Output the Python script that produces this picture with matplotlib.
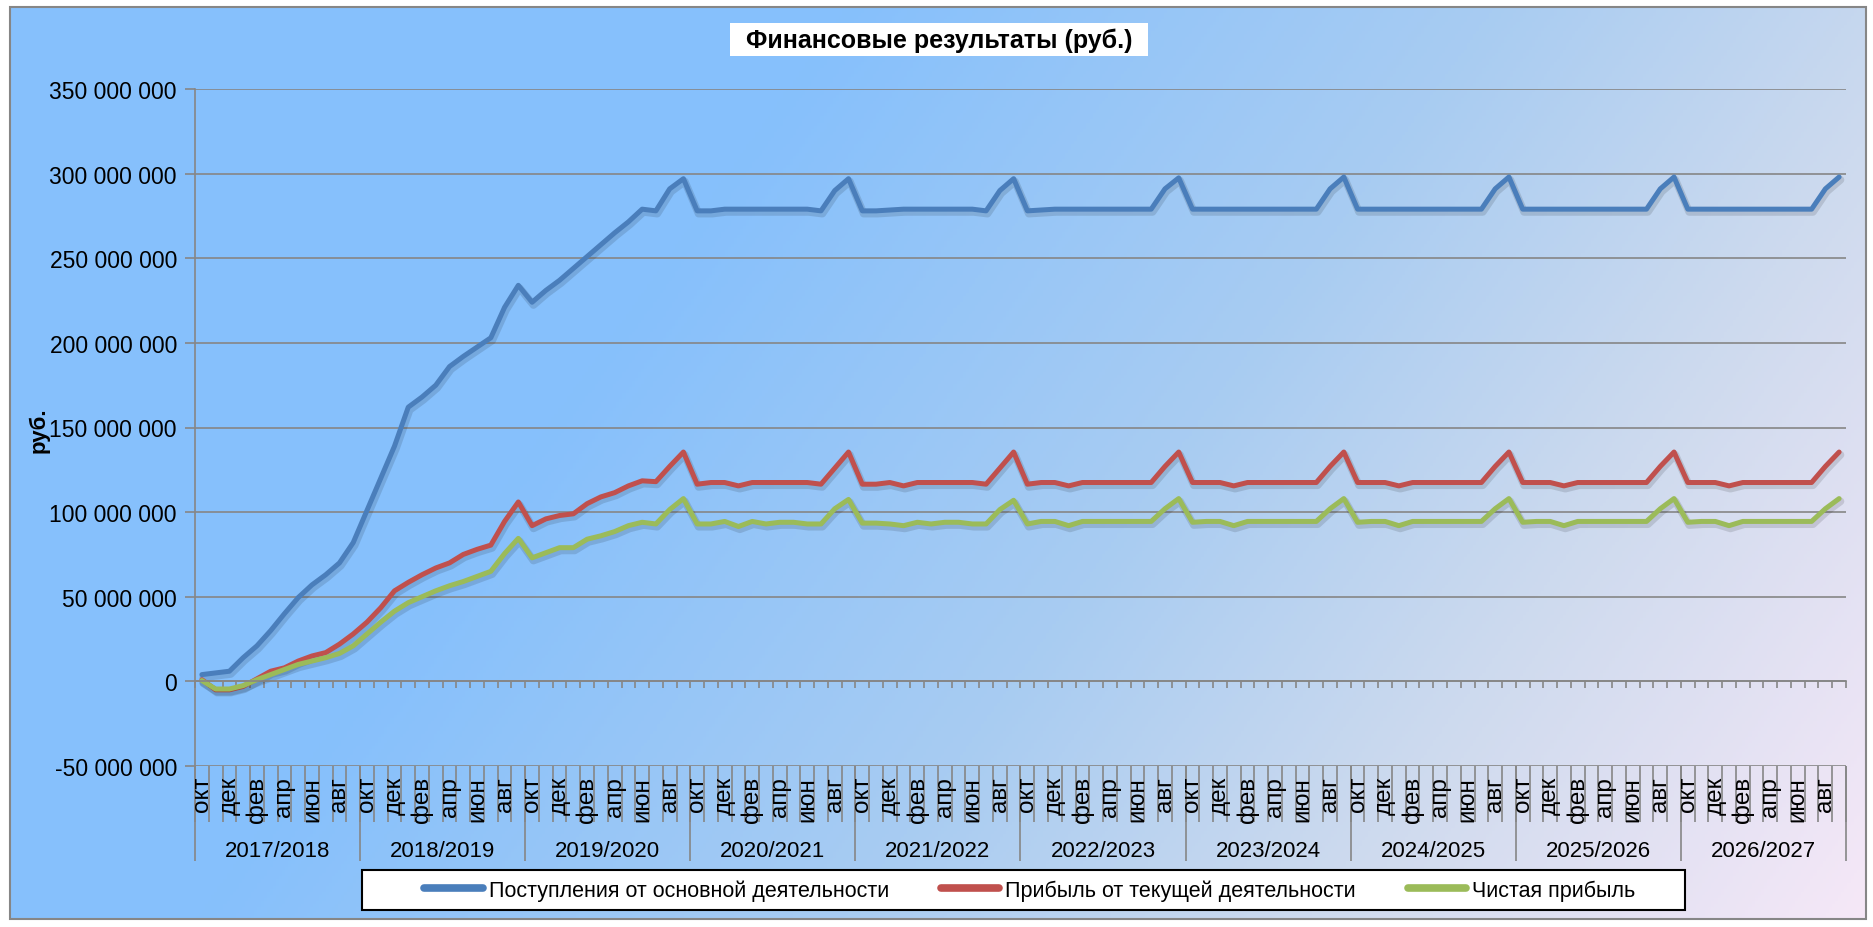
import numpy as np
import matplotlib
matplotlib.use('Agg')
import matplotlib.pyplot as plt
import matplotlib.patheffects as pe
import matplotlib.transforms as mtransforms
from matplotlib.patches import Rectangle
from matplotlib.lines import Line2D
from matplotlib.ticker import FuncFormatter

plt.rcParams['font.family'] = ['Liberation Sans', 'DejaVu Sans']

# финансовые годы (окт - сен) и месяцы
years = ['2017/2018', '2018/2019', '2019/2020', '2020/2021', '2021/2022',
         '2022/2023', '2023/2024', '2024/2025', '2025/2026', '2026/2027']
months = ['окт', 'ноя', 'дек', 'янв', 'фев', 'мар',
          'апр', 'май', 'июн', 'июл', 'авг', 'сен']

# млн руб., по месяцам
revenue = [
    4, 5, 6, 14, 21, 30, 40, 49.5, 57, 63, 70, 82,
    101, 120, 139, 162, 168, 175, 186, 192, 197.5, 203, 221, 234,
    224, 231, 237, 244, 251, 258, 265, 271.5, 279, 278, 291, 297,
    278, 278, 279, 279, 279, 279, 279, 279, 279, 278, 290, 297,
    278, 278, 278.5, 279, 279, 279, 279, 279, 279, 278, 290, 297,
    278, 278.5, 279, 279, 279, 279, 279, 279, 279, 279, 291, 297.5,
    279, 279, 279, 279, 279, 279, 279, 279, 279, 279, 291, 298,
    279, 279, 279, 279, 279, 279, 279, 279, 279, 279, 291, 298,
    279, 279, 279, 279, 279, 279, 279, 279, 279, 279, 291, 298,
    279, 279, 279, 279, 279, 279, 279, 279, 279, 279, 291, 298,
]
op_profit = [
    1, -5, -5, -3, 1.5, 6, 8, 12, 15, 17, 22, 28,
    35, 43.5, 53.5, 58.5, 63, 67, 70, 75, 78, 80.5, 94.5, 106,
    92, 96, 98, 99, 105, 109, 111.5, 115.5, 118.5, 118, 127, 135.5,
    116.5, 117.5, 117.5, 115.5, 117.5, 117.5, 117.5, 117.5, 117.5, 116.5, 126, 135.5,
    116.5, 116.5, 117.5, 115.5, 117.5, 117.5, 117.5, 117.5, 117.5, 116.5, 126, 135.5,
    116.5, 117.5, 117.5, 115.5, 117.5, 117.5, 117.5, 117.5, 117.5, 117.5, 127, 135.5,
    117.5, 117.5, 117.5, 115.5, 117.5, 117.5, 117.5, 117.5, 117.5, 117.5, 127, 135.5,
    117.5, 117.5, 117.5, 115.5, 117.5, 117.5, 117.5, 117.5, 117.5, 117.5, 127, 135.5,
    117.5, 117.5, 117.5, 115.5, 117.5, 117.5, 117.5, 117.5, 117.5, 117.5, 127, 135.5,
    117.5, 117.5, 117.5, 115.5, 117.5, 117.5, 117.5, 117.5, 117.5, 117.5, 127, 135.5,
]
net_profit = [
    0.5, -4.5, -4.5, -2.5, 1, 4, 7, 10, 12, 14, 16.5, 21,
    28, 35, 41.5, 46.5, 50, 53.5, 56.5, 59, 62, 65, 75.5, 84.5,
    73, 76, 79, 79, 84, 86, 88.5, 92, 94, 93, 101.5, 108,
    93, 93, 94.5, 91.5, 94.5, 93, 94, 94, 93, 93, 102, 107.5,
    93.5, 93.5, 93, 92, 94, 93, 94, 94, 93, 93, 101.5, 107,
    93, 94.5, 94.5, 92, 94.5, 94.5, 94.5, 94.5, 94.5, 94.5, 102, 108,
    94, 94.5, 94.5, 92, 94.5, 94.5, 94.5, 94.5, 94.5, 94.5, 102, 108,
    94, 94.5, 94.5, 92, 94.5, 94.5, 94.5, 94.5, 94.5, 94.5, 102, 108,
    94, 94.5, 94.5, 92, 94.5, 94.5, 94.5, 94.5, 94.5, 94.5, 102, 108,
    94, 94.5, 94.5, 92, 94.5, 94.5, 94.5, 94.5, 94.5, 94.5, 102, 108,
]

series = [
    ('Поступления от основной деятельности', revenue, '#4A7EBB'),
    ('Прибыль от текущей деятельности', op_profit, '#C0504D'),
    ('Чистая прибыль', net_profit, '#9BBB59'),
]

W, H = 1874, 928
GREY = '#868686'
fig = plt.figure(figsize=(W / 100, H / 100), dpi=100)
fig.patch.set_facecolor('white')

# градиентный фон области диаграммы
bg = fig.add_axes([10 / W, 8 / H, 1856 / W, 912 / H], zorder=-10)
bg.axis('off')
gx, gy = np.meshgrid(np.linspace(0, 1, 600), np.linspace(0, 1, 300))
t = gx + 0.35 * gy
stops = [0.0, 0.45, 0.8, 1.05, 1.35]
cols = np.array([(134, 192, 252), (134, 192, 252), (168, 204, 242),
                 (205, 218, 238), (246, 232, 247)]) / 255
grad = np.dstack([np.interp(t, stops, cols[:, k]) for k in range(3)])
bg.imshow(grad, aspect='auto', extent=(0, 1, 0, 1), origin='upper')
fig.patches.append(Rectangle((10 / W, 8 / H), 1856 / W, 912 / H,
                             transform=fig.transFigure, fill=False,
                             edgecolor=GREY, linewidth=1.5))

ax = fig.add_axes([195 / W, 1 - 767 / H, 1651 / W, 677 / H])
ax.set_facecolor('none')

n = len(revenue)
x = np.arange(n) + 0.5
for label, vals, color in series:
    ax.plot(x, vals, color=color, lw=3.6, solid_joinstyle='round',
            solid_capstyle='round',
            path_effects=[pe.SimpleLineShadow(offset=(1, -2), alpha=0.12,
                                              linewidth=5.5),
                          pe.Normal()])

ax.set_xlim(0, n)
ax.set_ylim(-50, 350)
ax.set_yticks(np.arange(-50, 351, 50))
ax.yaxis.set_major_formatter(FuncFormatter(
    lambda v, p: f'{int(round(v * 1e6)):,}'.replace(',', ' ')))
ax.yaxis.grid(True, color=GREY, lw=1.2)
ax.set_axisbelow(True)
ax.tick_params(axis='y', direction='out', length=7, width=1.2, color=GREY,
               labelsize=16.5, pad=6)

# горизонтальная ось проходит через ноль
ax.spines['bottom'].set_position(('data', 0))
ax.spines['bottom'].set_color(GREY)
ax.spines['bottom'].set_linewidth(1.2)
ax.spines['left'].set_color(GREY)
ax.spines['left'].set_linewidth(1.2)
ax.spines['top'].set_visible(False)
ax.spines['right'].set_visible(False)
ax.set_xticks(np.arange(0, n + 1))
ax.tick_params(axis='x', direction='out', length=5, width=1.2, color=GREY,
               labelbottom=False)

# двухуровневые подписи категорий внизу
trans = mtransforms.blended_transform_factory(ax.transData, fig.transFigure)
y_axis = 1 - 767 / H
ax.vlines(np.arange(0, n + 1), 1 - 823 / H, y_axis, transform=trans,
          color=GREY, lw=1.2, clip_on=False)
ax.vlines(np.arange(0, n + 1, 12), 1 - 862 / H, y_axis, transform=trans,
          color=GREY, lw=1.2, clip_on=False)
for k, yr in enumerate(years):
    for m in range(0, 12, 2):
        ax.text(k * 12 + m + 0.5, 1 - 777 / H, months[m], transform=trans,
                rotation=90, ha='center', va='top', fontsize=17.5)
    ax.text(k * 12 + 6, 1 - 852 / H, yr, transform=trans,
            ha='center', va='center', fontsize=16)

# заголовок
fig.patches.append(Rectangle((730 / W, 1 - 57 / H), 418 / W, 33 / H,
                             transform=fig.transFigure, facecolor='white',
                             edgecolor='none'))
fig.text(939 / W, 1 - 41 / H, 'Финансовые результаты (руб.)', ha='center',
         va='center', fontsize=18, fontweight='bold')
fig.text(39 / W, 1 - 430 / H, 'руб.', rotation=90, ha='center', va='center',
         fontsize=16, fontweight='bold')

# легенда
fig.patches.append(Rectangle((362 / W, 1 - 911 / H), 1323 / W, 40 / H,
                             transform=fig.transFigure, facecolor='white',
                             edgecolor='black', linewidth=1.5))
handles = [Line2D([], [], color=c, lw=5.5, solid_capstyle='round')
           for _, _, c in series]
fig.legend(handles, [s[0] for s in series], loc='center',
           bbox_to_anchor=(1030 / W, 1 - 891 / H), ncol=3, frameon=False,
           fontsize=15.5, handlelength=2.7, handletextpad=0.3,
           columnspacing=2.4)

fig.savefig('out.png', dpi=100)
